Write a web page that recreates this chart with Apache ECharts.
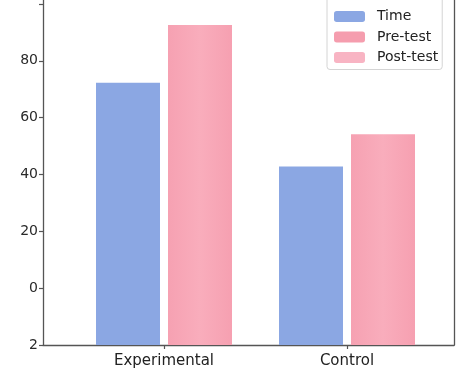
<!DOCTYPE html>
<html>
<head>
<meta charset="utf-8">
<script src="https://cdn.jsdelivr.net/npm/echarts@6/dist/echarts.min.js"></script>
<style>html,body{margin:0;padding:0;background:#fff;}#c{width:462px;height:370px;}</style>
</head>
<body>
<div id="c"></div>
<script>
var categories = ['Experimental', 'Control'];
var seriesNames = ['Time', 'Pre-test', 'Post-test'];
var timeValues = [72.3, 42.8];
var preTestValues = [92.6, 54.2];
var postTestValues = [];
var yTickLabels = {'-20': '2', '0': '0', '20': '20', '40': '40', '60': '60', '80': '80'};
var yMin = -20, yMax = 101.4, yStep = 20;

var chart = echarts.init(document.getElementById('c'), null, {renderer: 'canvas'});
var font = 'DejaVu Sans';
var spine = {show: true, onZero: false, lineStyle: {color: '#555', width: 1.3}};
var colors = ['#8ba7e3', '#f59dae', '#f8b4c3'];
chart.setOption({
  animation: false,
  backgroundColor: '#fff',
  grid: [
    {left: 43, right: 8, top: 0, bottom: 25},
    {left: 72.5, right: 23.5, top: 0, bottom: 25}
  ],
  xAxis: [
    {gridIndex: 0, type: 'category', data: categories, axisLine: spine, axisTick: {show: false}, axisLabel: {show: false}},
    {gridIndex: 1, type: 'category', data: categories, axisLine: {show: false, onZero: false},
     axisTick: {show: true, alignWithLabel: true, length: 4, lineStyle: {color: '#555', width: 1.2}},
     axisLabel: {fontFamily: font, fontSize: 15, color: '#222', margin: 9}}
  ],
  yAxis: [
    {gridIndex: 0, type: 'value', min: yMin, max: yMax, interval: yStep, axisLine: spine,
     axisTick: {show: true, length: 4, lineStyle: {color: '#555', width: 1.2}},
     splitLine: {show: false},
     axisLabel: {fontFamily: font, fontSize: 14, color: '#2a2a2a', margin: 5, showMaxLabel: false,
       formatter: function (v) { return yTickLabels[String(v)] !== undefined ? yTickLabels[String(v)] : ''; }}},
    {gridIndex: 0, type: 'value', position: 'right', min: yMin, max: yMax, axisLine: spine,
     axisTick: {show: false}, axisLabel: {show: false}, splitLine: {show: false}},
    {gridIndex: 1, type: 'value', min: yMin, max: yMax, interval: yStep, startValue: yMin, show: false, splitLine: {show: false}}
  ],
  legend: {
    orient: 'vertical', left: 327, top: -4,
    padding: [13.5, 4, 5, 7], itemGap: 6.5, itemWidth: 31, itemHeight: 11,
    borderColor: '#d4d4d4', borderWidth: 1, borderRadius: 3, backgroundColor: '#fff',
    textStyle: {fontFamily: font, fontSize: 14, color: '#222', padding: [0, 0, 0, 7]},
    data: seriesNames.map(function (n, i) { return {name: n, itemStyle: {color: colors[i]}}; })
  },
  series: [
    {name: seriesNames[0], type: 'bar', xAxisIndex: 1, yAxisIndex: 2, data: timeValues,
     barWidth: 64, barGap: '12.5%', itemStyle: {color: colors[0]}},
    {name: seriesNames[1], type: 'bar', xAxisIndex: 1, yAxisIndex: 2, data: preTestValues,
     barWidth: 64, barGap: '12.5%',
     itemStyle: {color: new echarts.graphic.LinearGradient(0, 0, 1, 0, [
       {offset: 0, color: '#f6a1b2'}, {offset: 0.5, color: '#f9adbc'}, {offset: 1, color: '#f6a0b1'}])}},
    {name: seriesNames[2], type: 'bar', xAxisIndex: 0, yAxisIndex: 0, data: postTestValues,
     itemStyle: {color: colors[2]}}
  ]
});
</script>
</body>
</html>
